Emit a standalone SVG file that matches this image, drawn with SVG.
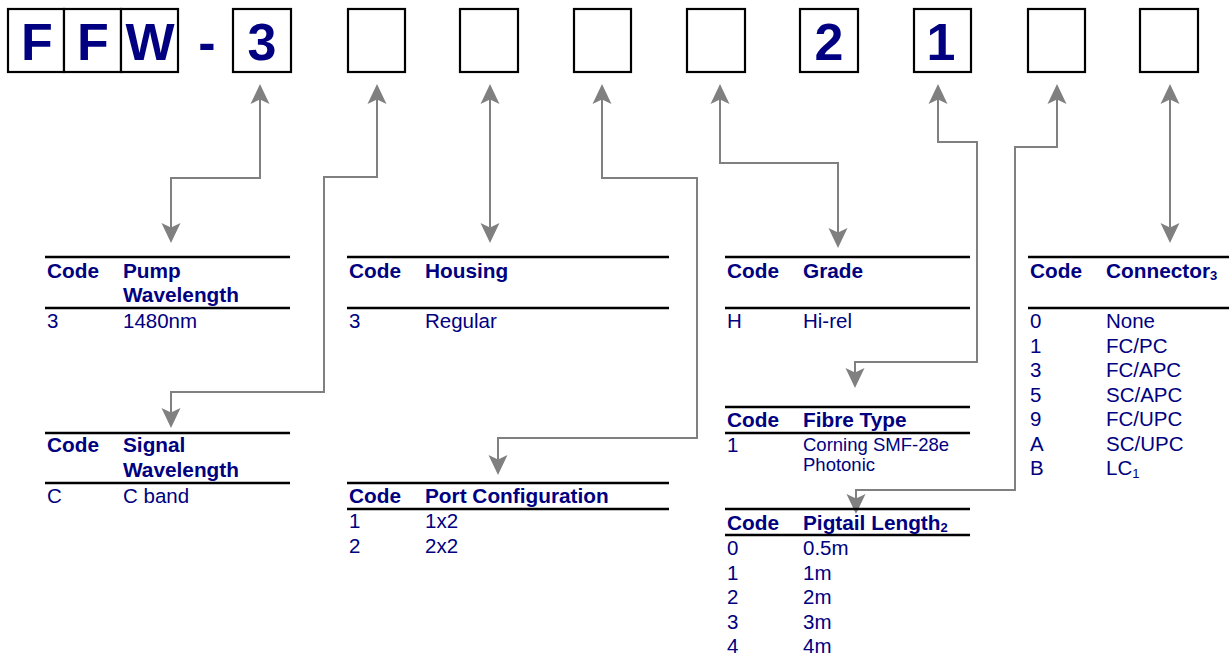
<svg xmlns="http://www.w3.org/2000/svg" width="1229" height="659" viewBox="0 0 1229 659">
<style>
.box{fill:#fff;stroke:#000;stroke-width:2.2}
.big{font-family:"Liberation Sans",Arial,sans-serif;font-weight:bold;font-size:52px;fill:#000080;text-anchor:middle}
.rule{stroke:#000;stroke-width:2.5}
.h{font-family:"Liberation Sans",Arial,sans-serif;font-weight:bold;font-size:20.8px;fill:#000080}
.t{font-family:"Liberation Sans",Arial,sans-serif;font-size:20.5px;fill:#000080}
.s{font-family:"Liberation Sans",Arial,sans-serif;font-size:18.5px;fill:#000080}
.conn{fill:none;stroke:#808080;stroke-width:2;marker-start:url(#ah);marker-end:url(#ah)}
</style>
<defs>
<marker id="ah" viewBox="0 0 20 20" refX="17" refY="10" markerWidth="20" markerHeight="20" markerUnits="userSpaceOnUse" orient="auto-start-reverse">
<path d="M0,0.5 L20,10 L0,19.5 L4.5,10 z" fill="#808080"/>
</marker>
</defs>
<rect width="1229" height="659" fill="#fff"/>
<g id="code-boxes">
<g id="box-F1"><rect class="box" x="8" y="9" width="56" height="63"/><text class="big" x="37" y="60">F</text></g>
<g id="box-F2"><rect class="box" x="64" y="9" width="57" height="63"/><text class="big" x="93" y="60">F</text></g>
<g id="box-W"><rect class="box" x="121" y="9" width="57" height="63"/><text class="big" x="150" y="60">W</text></g>
<g id="dash"><text class="big" x="207" y="60">-</text></g>
<g id="box-3"><rect class="box" x="233" y="9" width="58" height="63"/><text class="big" x="262" y="60">3</text></g>
<g id="box-5"><rect class="box" x="348" y="9" width="57" height="63"/></g>
<g id="box-6"><rect class="box" x="460" y="9" width="58" height="63"/></g>
<g id="box-7"><rect class="box" x="574" y="9" width="57" height="63"/></g>
<g id="box-8"><rect class="box" x="687" y="9" width="58" height="63"/></g>
<g id="box-2"><rect class="box" x="800" y="9" width="58" height="63"/><text class="big" x="829" y="60">2</text></g>
<g id="box-1"><rect class="box" x="914" y="9" width="57" height="63"/><text class="big" x="941" y="60">1</text></g>
<g id="box-11"><rect class="box" x="1028" y="9" width="57" height="63"/></g>
<g id="box-12"><rect class="box" x="1140" y="9" width="58" height="63"/></g>
</g>
<g id="connectors">
<path class="conn" d="M260,87 V178 H171 V240"/>
<path class="conn" d="M377,87 V177 H324 V392 H171 V425"/>
<path class="conn" d="M490,87 V240"/>
<path class="conn" d="M602,87 V178 H697 V438 H498 V472"/>
<path class="conn" d="M720,87 V163 H838 V245"/>
<path class="conn" d="M938,87 V142 H977 V362 H855 V385"/>
<path class="conn" d="M1057,87 V147 H1015 V490 H856 V511"/>
<path class="conn" d="M1170,87 V240"/>
</g>
<g id="table-pump">
<line class="rule" x1="45" y1="257" x2="290" y2="257"/>
<line class="rule" x1="45" y1="308" x2="290" y2="308"/>
<text class="h" x="47" y="278">Code</text>
<text class="h" x="123" y="278">Pump</text>
<text class="h" x="123" y="302">Wavelength</text>
<text class="t" x="47" y="328">3</text>
<text class="t" x="123" y="328">1480nm</text>
</g>
<g id="table-signal">
<line class="rule" x1="45" y1="433" x2="290" y2="433"/>
<line class="rule" x1="45" y1="483" x2="290" y2="483"/>
<text class="h" x="47" y="452">Code</text>
<text class="h" x="123" y="452">Signal</text>
<text class="h" x="123" y="477">Wavelength</text>
<text class="t" x="47" y="503">C</text>
<text class="t" x="123" y="503">C band</text>
</g>
<g id="table-housing">
<line class="rule" x1="347" y1="257" x2="669" y2="257"/>
<line class="rule" x1="347" y1="308" x2="669" y2="308"/>
<text class="h" x="349" y="278">Code</text>
<text class="h" x="425" y="278">Housing</text>
<text class="t" x="349" y="328">3</text>
<text class="t" x="425" y="328">Regular</text>
</g>
<g id="table-port">
<line class="rule" x1="347" y1="483" x2="669" y2="483"/>
<line class="rule" x1="347" y1="509" x2="669" y2="509"/>
<text class="h" x="349" y="503">Code</text>
<text class="h" x="425" y="503">Port Configuration</text>
<text class="t" x="349" y="528">1</text>
<text class="t" x="425" y="528">1x2</text>
<text class="t" x="349" y="552.5">2</text>
<text class="t" x="425" y="552.5">2x2</text>
</g>
<g id="table-grade">
<line class="rule" x1="725" y1="257" x2="970" y2="257"/>
<line class="rule" x1="725" y1="308" x2="970" y2="308"/>
<text class="h" x="727" y="278">Code</text>
<text class="h" x="803" y="278">Grade</text>
<text class="t" x="727" y="328">H</text>
<text class="t" x="803" y="328">Hi-rel</text>
</g>
<g id="table-fibre">
<line class="rule" x1="725" y1="407" x2="970" y2="407"/>
<line class="rule" x1="725" y1="433" x2="970" y2="433"/>
<text class="h" x="727" y="427">Code</text>
<text class="h" x="803" y="427">Fibre Type</text>
<text class="t" x="727" y="452">1</text>
<text class="s" x="803" y="451">Corning SMF-28e</text>
<text class="s" x="803" y="471">Photonic</text>
</g>
<g id="table-pigtail">
<line class="rule" x1="725" y1="509" x2="970" y2="509"/>
<line class="rule" x1="725" y1="535" x2="970" y2="535"/>
<text class="h" x="727" y="530">Code</text>
<text class="h" x="803" y="530">Pigtail Length<tspan font-size="13" dy="2">2</tspan></text>
<text class="t" x="727" y="555">0</text><text class="t" x="803" y="555">0.5m</text>
<text class="t" x="727" y="579.5">1</text><text class="t" x="803" y="579.5">1m</text>
<text class="t" x="727" y="604">2</text><text class="t" x="803" y="604">2m</text>
<text class="t" x="727" y="628.5">3</text><text class="t" x="803" y="628.5">3m</text>
<text class="t" x="727" y="653">4</text><text class="t" x="803" y="653">4m</text>
</g>
<g id="table-connector">
<line class="rule" x1="1028" y1="257" x2="1229" y2="257"/>
<line class="rule" x1="1028" y1="308" x2="1229" y2="308"/>
<text class="h" x="1030" y="278">Code</text>
<text class="h" x="1106" y="278">Connector<tspan font-size="13" dy="2">3</tspan></text>
<text class="t" x="1030" y="328">0</text><text class="t" x="1106" y="328">None</text>
<text class="t" x="1030" y="352.5">1</text><text class="t" x="1106" y="352.5">FC/PC</text>
<text class="t" x="1030" y="377">3</text><text class="t" x="1106" y="377">FC/APC</text>
<text class="t" x="1030" y="401.5">5</text><text class="t" x="1106" y="401.5">SC/APC</text>
<text class="t" x="1030" y="426">9</text><text class="t" x="1106" y="426">FC/UPC</text>
<text class="t" x="1030" y="450.5">A</text><text class="t" x="1106" y="450.5">SC/UPC</text>
<text class="t" x="1030" y="475">B</text><text class="t" x="1106" y="475">LC<tspan font-size="13" dy="3">1</tspan></text>
</g>
</svg>
